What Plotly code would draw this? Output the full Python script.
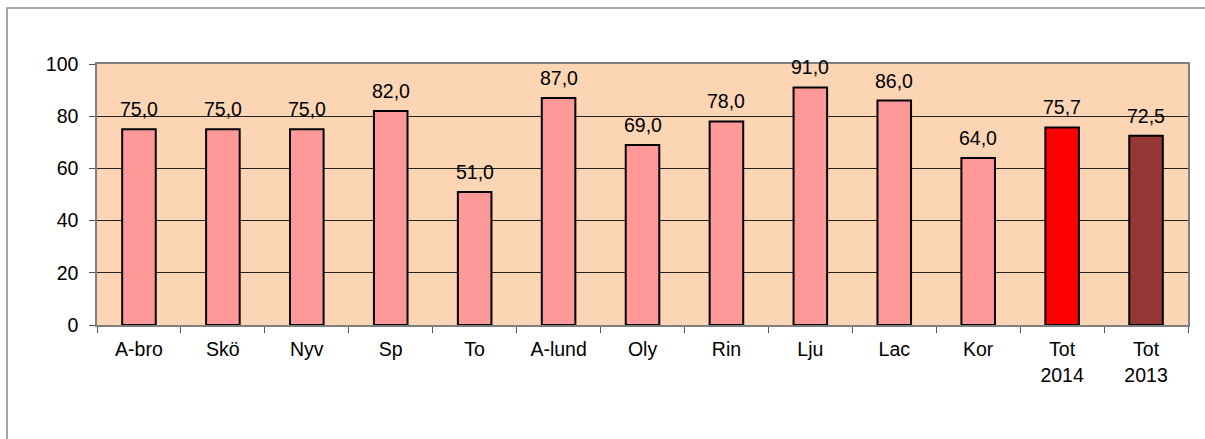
import plotly.graph_objects as go

categories = ["A-bro", "Skö", "Nyv", "Sp", "To", "A-lund", "Oly", "Rin", "Lju", "Lac", "Kor", "Tot<br>2014", "Tot<br>2013"]
values = [75.0, 75.0, 75.0, 82.0, 51.0, 87.0, 69.0, 78.0, 91.0, 86.0, 64.0, 75.7, 72.5]
bar_colors = ["#FF9999"] * 11 + ["#FF0000", "#953735"]
y_ticks = [0, 20, 40, 60, 80, 100]

labels = [f"{v:.1f}".replace(".", ",") for v in values]

W, H = 1205, 439
L, R, T, B = 97, 17, 64, 114
pw, ph = W - L - R, H - T - B
FONT = "Liberation Sans, Arial"
FS = 19.5

fig = go.Figure()
fig.add_trace(go.Bar(
    x=categories, y=values,
    marker=dict(color=bar_colors, line=dict(color="#000000", width=2)),
    width=0.4,
    hoverinfo="skip",
))

for c, v, t in zip(categories, values, labels):
    fig.add_annotation(x=c, y=v, text=t, showarrow=False, yanchor="bottom",
                       yshift=7, font=dict(family=FONT, size=FS, color="#000000"))

# outer chart frame
fig.add_shape(type="rect", xref="paper", yref="paper",
              x0=(7 - L) / pw, x1=(W + 20 - L) / pw,
              y0=-(H + 20 - T - ph) / ph, y1=1 + (T - 8) / ph,
              line=dict(color="#888888", width=1.5), fillcolor="rgba(0,0,0,0)", layer="below")

fig.update_layout(
    width=W, height=H,
    margin=dict(l=L, r=R, t=T, b=B),
    paper_bgcolor="#FFFFFF",
    plot_bgcolor="#FCD5B5",
    showlegend=False,
    font=dict(family=FONT, size=FS, color="#000000"),
    xaxis=dict(
        type="category", tickson="boundaries", ticks="outside", ticklen=6,
        tickcolor="#555555", showline=True, linecolor="#7F7F7F", linewidth=1.5,
        mirror=True, showgrid=False, tickfont=dict(size=FS), fixedrange=True,
        ticklabelstandoff=6,
    ),
    yaxis=dict(
        range=[0, 100], tickvals=y_ticks, ticks="outside", ticklen=6,
        tickcolor="#555555", showline=True, linecolor="#7F7F7F", linewidth=1.5,
        mirror=True, showgrid=True, gridcolor="#222222", gridwidth=1,
        zeroline=False, tickfont=dict(size=FS), fixedrange=True,
        ticklabelstandoff=7,
    ),
)

fig.write_html("out.html", config={"displayModeBar": False},
               post_script="document.body.style.margin='0';")
